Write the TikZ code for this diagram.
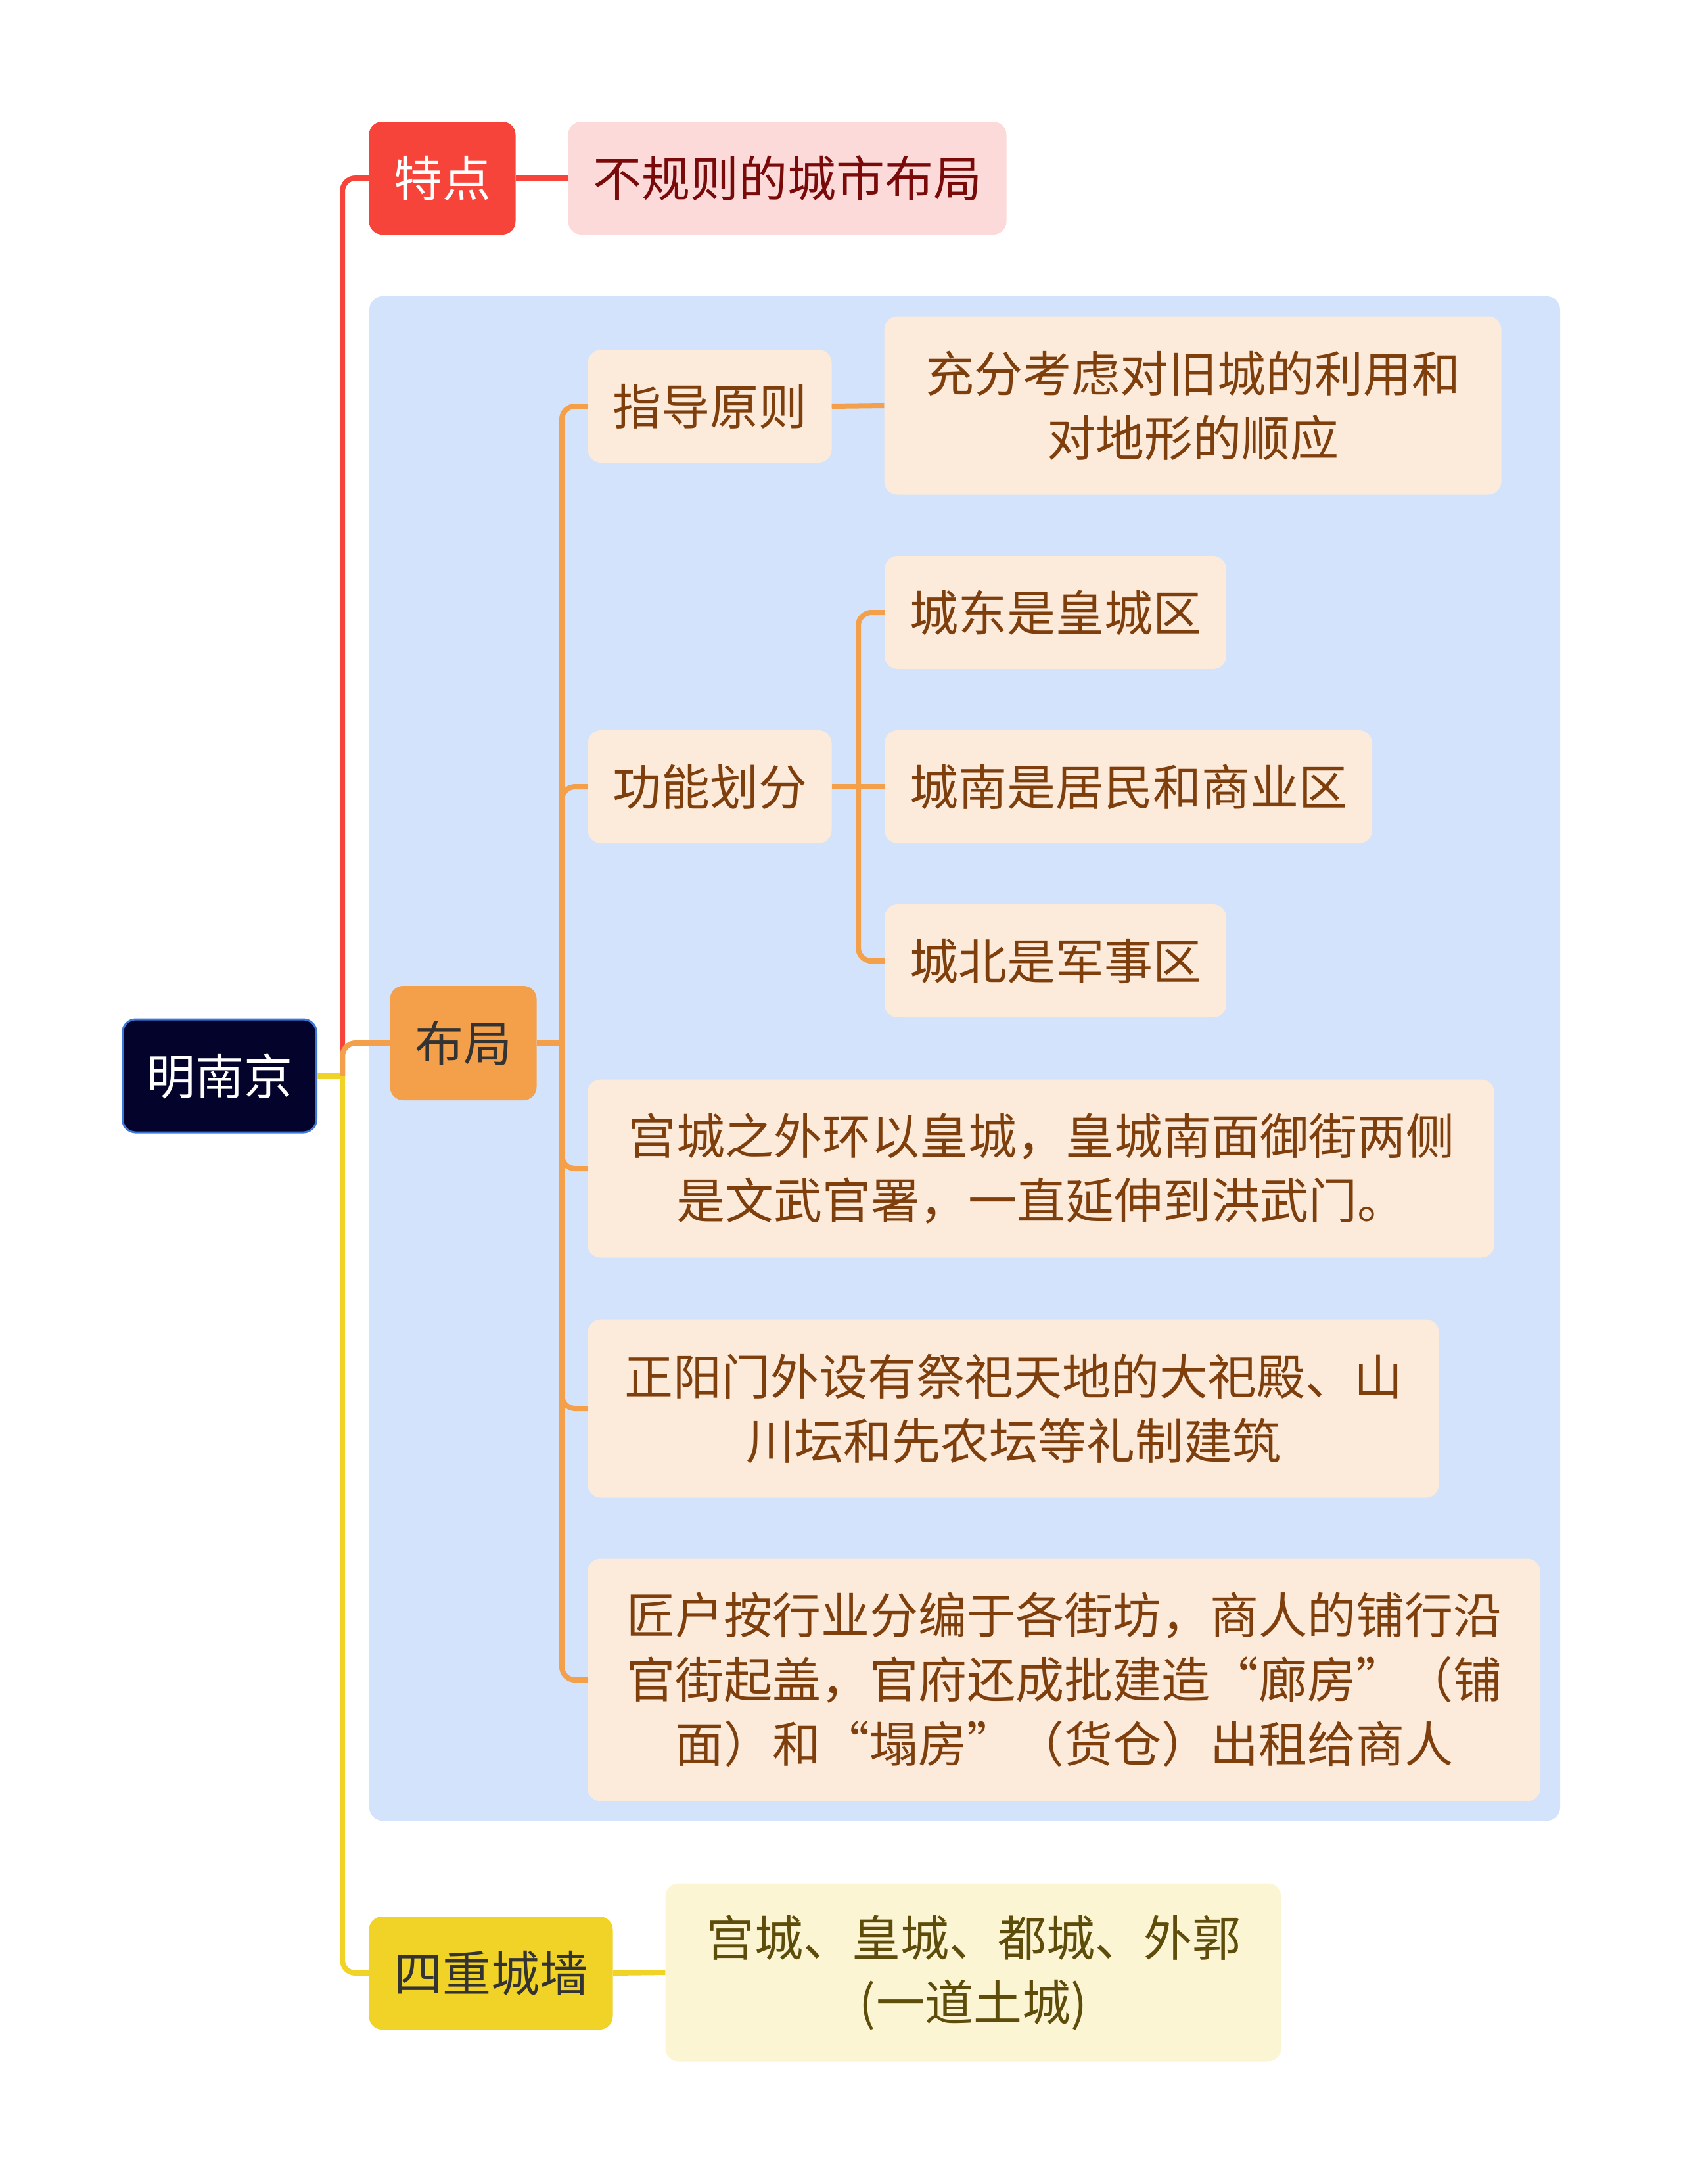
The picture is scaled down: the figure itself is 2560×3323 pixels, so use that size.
\documentclass[tikz,border=0pt]{standalone}
\usepackage{fontspec}
\setmainfont{Noto Sans CJK SC}
\usetikzlibrary{positioning}
\definecolor{rootnavy}{HTML}{03032C}
\definecolor{rootblue}{HTML}{3B78D8}
\definecolor{redmain}{HTML}{F7443B}
\definecolor{redsoft}{HTML}{FDDADA}
\definecolor{redtext}{HTML}{7A0A0A}
\definecolor{orangemain}{HTML}{F4A04B}
\definecolor{orangesoft}{HTML}{FCEBDB}
\definecolor{orangetext}{HTML}{7F3F0D}
\definecolor{yellowmain}{HTML}{F1D226}
\definecolor{yellowsoft}{HTML}{FBF5D4}
\definecolor{yellowtext}{HTML}{5E4D0A}
\definecolor{panelblue}{HTML}{D3E3FB}
\definecolor{darktext}{HTML}{333333}

\begin{document}
\begin{tikzpicture}[
  x=1pt, y=-1pt,
  box/.style={rounded corners=20pt, inner sep=0pt, align=center, minimum height=172pt,
    font=\fontsize{74}{98}\selectfont},
  rootbox/.style={box, fill=rootnavy, draw=rootblue, line width=3pt, text=white},
  redbox/.style={box, fill=redmain, text=white},
  redleaf/.style={box, fill=redsoft, text=redtext},
  orangebox/.style={box, fill=orangemain, text=darktext},
  orangeleaf/.style={box, fill=orangesoft, text=orangetext},
  yellowbox/.style={box, fill=yellowmain, text=darktext},
  yellowleaf/.style={box, fill=yellowsoft, text=yellowtext},
  link/.style={line width=8pt, rounded corners=20pt},
  redlink/.style={link, draw=redmain},
  orangelink/.style={link, draw=orangemain},
  yellowlink/.style={link, draw=yellowmain}
]
  \useasboundingbox (0,0) rectangle (2560,3323);
  \fill[panelblue, rounded corners=20pt] (562,451) rectangle (2374,2770);

  \node[rootbox, minimum width=295pt] (root) at (334,1637) {明南京};

  \node[redbox, minimum width=223pt] (tedian) at (673,271) {特点};
  \node[redleaf, minimum width=667pt] (buguize) at (1198,271) {不规则的城市布局};

  \node[orangebox, minimum width=223pt, minimum height=174pt] (buju) at (705,1587) {布局};
  \node[orangeleaf, minimum width=371pt] (zhidao) at (1080,618) {指导原则};
  \node[orangeleaf, minimum width=939pt, minimum height=271pt] (chongfen) at (1815,617) {充分考虑对旧城的利用和\\对地形的顺应};
  \node[orangeleaf, minimum width=371pt] (gongneng) at (1080,1197) {功能划分};
  \node[orangeleaf, minimum width=520pt] (chengdong) at (1606,932) {城东是皇城区};
  \node[orangeleaf, minimum width=742pt] (chengnan) at (1717,1197) {城南是居民和商业区};
  \node[orangeleaf, minimum width=520pt] (chengbei) at (1606,1462) {城北是军事区};
  \node[orangeleaf, minimum width=1380pt, minimum height=271pt] (gongcheng) at (1584,1778) {宫城之外环以皇城，皇城南面御街两侧\\是文武官署，一直延伸到洪武门。};
  \node[orangeleaf, minimum width=1295pt, minimum height=271pt] (zhengyang) at (1542,2143) {正阳门外设有祭祀天地的大祀殿、山\\川坛和先农坛等礼制建筑};
  \node[orangeleaf, minimum width=1450pt, minimum height=369pt] (jianghu) at (1619,2556) {匠户按行业分编于各街坊，商人的铺行沿\\官街起盖，官府还成批建造“廊房”（铺\\面）和“塌房”（货仓）出租给商人};

  \node[yellowbox, minimum width=371pt] (sichong) at (747,3002) {四重城墙};
  \node[yellowleaf, minimum width=937pt, minimum height=271pt] (gongqiang) at (1481,3001) {宫城、皇城、都城、外郭\\(一道土城)};

  \coordinate (trunk) at (521,1637);
  \coordinate (bujutrunk) at (855,1587);
  \coordinate (gongnengtrunk) at (1306,1197);

  \draw[yellowlink] (root.east) -- (trunk);
  \draw[redlink] (trunk) |- (tedian.west);
  \draw[redlink] (tedian.east) -- (buguize.west);
  \draw[orangelink] (trunk) |- (buju.west);
  \draw[yellowlink] (trunk) |- (sichong.west);
  \draw[yellowlink] (sichong.east) -- (gongqiang.west);

  \draw[orangelink] (buju.east) -- (bujutrunk);
  \foreach \child in {zhidao, gongneng, gongcheng, zhengyang, jianghu}
    \draw[orangelink] (bujutrunk) |- (\child.west);
  \draw[orangelink] (zhidao.east) -- (chongfen.west);
  \draw[orangelink] (gongneng.east) -- (chengnan.west);
  \foreach \child in {chengdong, chengbei}
    \draw[orangelink] (gongnengtrunk) |- (\child.west);
\end{tikzpicture}
\end{document}
